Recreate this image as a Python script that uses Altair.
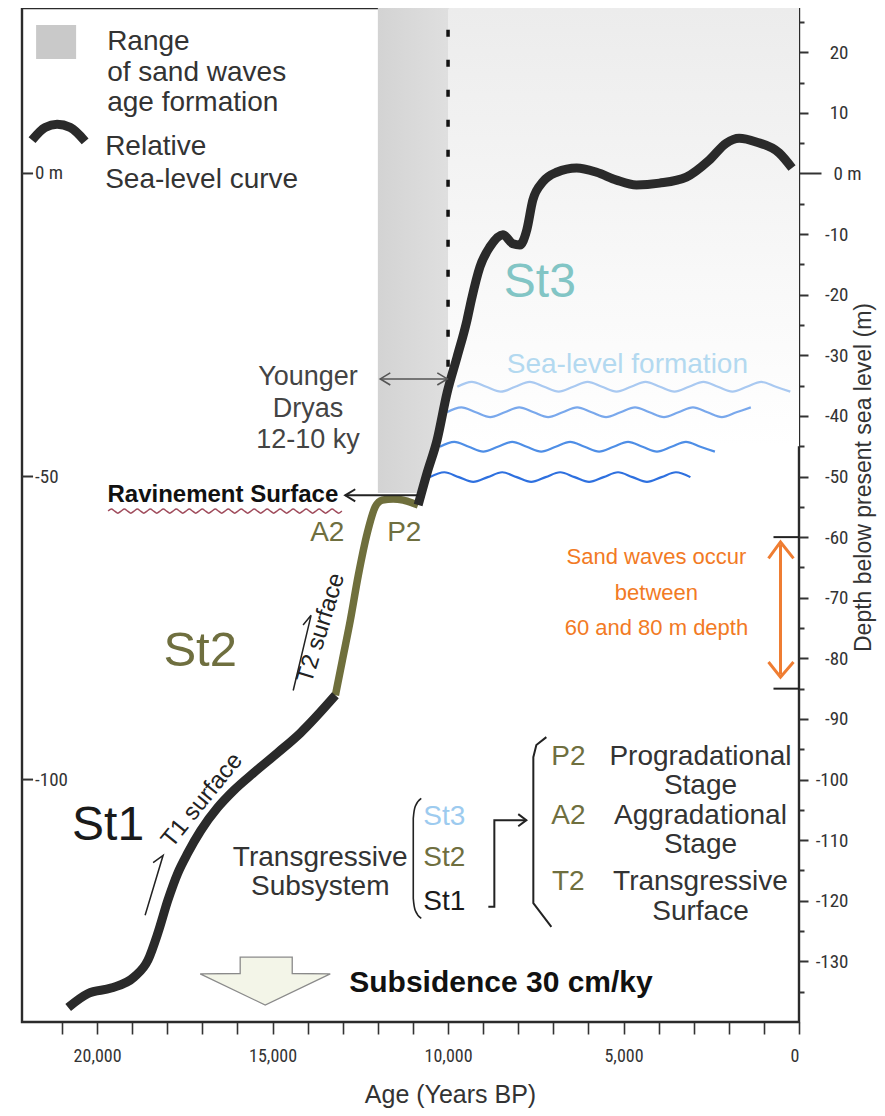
import altair as alt
import pandas as pd

SANS = "Liberation Sans, Arial, Helvetica, sans-serif"
NARROW = "Liberation Sans Narrow, Arial Narrow, Roboto Condensed, DejaVu Sans Condensed, sans-serif"

# ---------------- data ----------------
X_DOMAIN = [0, 22140]
Y_DOMAIN = [-140, 27.3]
X_TICKS = [0, 1000, 2000, 3000, 4000, 5000, 6000, 7000, 8000, 9000, 10000,
           11000, 12000, 13000, 14000, 15000, 16000, 17000, 18000, 19000, 20000, 21000]
Y_TICKS = [25, 20, 15, 10, 5, 0, -5, -10, -15, -20, -25, -30, -35, -40, -45, -50,
           -55, -60, -65, -70, -75, -80, -85, -90, -95, -100, -105, -110, -115,
           -120, -125, -130, -135]
LEFT_TICKS = [0, -50, -100]
LEFT_LABELS = ["0 m", "-50", "-100"]

# relative sea-level curve (years BP, m)
ST1_AGE = [20824, 20256, 19602, 18949, 18551, 18267, 17983, 17699, 17415, 17045,
           16562, 16108, 15540, 14858, 14205, 13210]
ST1_DEPTH = [-137.6, -135.3, -134.4, -132.6, -129.8, -125.3, -119.9, -115.4, -112.1,
             -108.4, -104.6, -101.8, -98.9, -95.6, -92.3, -86.1]
ST2_AGE = [13210, 13011, 12784, 12557, 12301, 12074, 11875, 11563, 11278, 10994, 10852]
ST2_DEPTH = [-86.1, -80.3, -73.7, -66.3, -59.3, -55.0, -53.9, -53.7, -53.9, -54.4, -54.7]
ST3_AGE = [10852, 10597, 10313, 10028, 9744, 9460, 9337, 9091, 8807, 8438,
           8153, 7955, 7756, 7585, 7301, 6903, 6335, 5767, 5199, 4631,
           3977, 3210, 2557, 2074, 1705, 1222, 568, 199]
ST3_DEPTH = [-54.7, -49.4, -44.0, -36.2, -30.3, -24.2, -20.9, -15.4, -12.1, -10.1,
             -11.6, -11.8, -9.3, -4.4, -1.4, 0.2, 0.9, 0.2, -1.1, -1.9,
             -1.6, -0.6, 2.2, 5.0, 5.8, 5.2, 3.4, 0.9]

# range of sand-wave age formation (12-10 ky), bounded by the curve
BAND_DEPTH = [-52.7, -49.4, -44.0, -36.2, -35.5, 27.3]
BAND_AGE_RIGHT = [10760, 10597, 10313, 10028, 10000, 10000]
BAND_AGE_LEFT = 12000

# sea-level formation waves: (start age, end age, depth, colour)
WAVES = [(9736, 43, -35.2, "#a9c9f1"),
         (10035, 1098, -39.4, "#79a8ec"),
         (10234, 2038, -45.1, "#4e8ee6"),
         (10519, 2893, -50.1, "#2e70df")]

# ---------------- scales / axes ----------------
XSCALE = alt.Scale(domain=X_DOMAIN, reverse=True, nice=False, zero=False)
YSCALE = alt.Scale(domain=Y_DOMAIN, nice=False, zero=False)
XAXIS = alt.Axis(values=X_TICKS, title="Age (Years BP)",
                 labelExpr="datum.value % 5000 === 0 ? format(datum.value, ',') : ''",
                 domain=False, grid=False, tickSize=12, tickWidth=1.6, tickColor="#333",
                 labelFont=NARROW, labelFontSize=18, labelColor="#333", labelPadding=13,
                 titleFont=SANS, titleFontSize=25, titleFontWeight="normal",
                 titleColor="#333", titleX=428, titleY=60, titleAlign="center",
                 titleBaseline="top")
YAXIS = alt.Axis(orient="right", values=Y_TICKS, title="Depth below present sea level (m)",
                 labelExpr="datum.value === 0 ? '0 m' : (datum.value % 10 === 0 ? '' + datum.value : '')",
                 domain=False, grid=False, tickWidth=2, tickColor="#333",
                 tickSize={"condition": [{"test": "datum.value === 0", "value": 22},
                                         {"test": "datum.value % 10 === 0", "value": 9}],
                           "value": 5},
                 labelFont=NARROW, labelFontSize=19, labelColor="#333",
                 labelAlign="right", labelBaseline="middle", labelPadding=40,
                 titleFont=SANS, titleFontSize=23, titleFontWeight="normal",
                 titleColor="#333", titleAngle=270, titleX=64, titleY=469,
                 titleAlign="center", titleBaseline="middle")


def X(f):
    return alt.X(f"{f}:Q", scale=XSCALE, axis=XAXIS)


def Y(f):
    return alt.Y(f"{f}:Q", scale=YSCALE, axis=YAXIS)


def lines(groups, **mark):
    rows = []
    for gid, pts in enumerate(groups):
        for i, (a, d) in enumerate(pts):
            rows.append({"id": gid, "i": i, "a": a, "d": d})
    return alt.Chart(pd.DataFrame(rows)).mark_line(**mark).encode(
        x=X("a"), y=Y("d"), detail="id:N", order="i:Q")


def texts(items, **mark):
    df = pd.DataFrame(items, columns=["t", "a", "d"])
    return alt.Chart(df).mark_text(**mark).encode(x=X("a"), y=Y("d"), text="t:N")


def wave_points(a0, a1, d, amp, period):
    q = period / 4.0
    n = int((a0 - a1) / q)
    offs = [0, amp, 0, -amp]
    return [(a0 - k * q, d + offs[k % 4]) for k in range(n + 1)]


layers = []

# light shading right of 10 ky
light = pd.DataFrame({"a1": [10000], "a2": [0], "d1": [27.3], "d2": [-45]})
layers.append(alt.Chart(light).mark_rect(color={
    "gradient": "linear", "x1": 0, "y1": 0, "x2": 0, "y2": 1,
    "stops": [{"offset": 0, "color": "#ececec"}, {"offset": 0.6, "color": "#f8f8f8"},
              {"offset": 1, "color": "#ffffff"}]}).encode(
    x=X("a1"), x2="a2", y=Y("d1"), y2="d2"))

# darker sand-wave age band
band = pd.DataFrame({"d": BAND_DEPTH, "a2": BAND_AGE_RIGHT, "a1": [BAND_AGE_LEFT] * len(BAND_DEPTH)})
layers.append(alt.Chart(band).mark_area(orient="horizontal", color={
    "gradient": "linear", "x1": 0, "y1": 0, "x2": 1, "y2": 0,
    "stops": [{"offset": 0, "color": "#d3d3d3"}, {"offset": 1, "color": "#dfdfdf"}]}).encode(
    y=Y("d"), x=X("a1"), x2="a2"))

# dotted 10 ky line
dot = pd.DataFrame({"a": [10000], "d1": [23.7], "d2": [-32.0]})
layers.append(alt.Chart(dot).mark_rule(color="#111", strokeWidth=3.5, strokeDash=[7, 23]).encode(
    x=X("a"), y=Y("d1"), y2="d2"))

# legend square and arc
sq = pd.DataFrame({"a1": [21738], "a2": [20598], "d1": [24.5], "d2": [18.9]})
layers.append(alt.Chart(sq).mark_rect(color="#c9c9c9").encode(x=X("a1"), x2="a2", y=Y("d1"), y2="d2"))
layers.append(lines([[(21853, 5.5), (21482, 7.6), (21140, 8.1), (20769, 7.6), (20341, 5.3)]],
                    color="#2a2a2a", strokeWidth=9, interpolate="monotone"))

# waves
for a0, a1, d, c in WAVES:
    layers.append(lines([wave_points(a0, a1, d, 0.8, 1650)], color=c, strokeWidth=2.2,
                        interpolate="monotone"))
# ravinement squiggle
layers.append(lines([wave_points(19686, 13015, -55.7, 0.35, 370)], color="#a04c5c",
                    strokeWidth=1.5, interpolate="monotone"))

# sea-level curve
layers.append(lines([list(zip(ST2_AGE, ST2_DEPTH))], color="#6f6f3c", strokeWidth=7.5,
                    interpolate="monotone"))
layers.append(lines([list(zip(ST1_AGE, ST1_DEPTH)), list(zip(ST3_AGE, ST3_DEPTH))],
                    color="#2a2a2a", strokeWidth=9, interpolate="monotone"))

# black thin annotation lines
layers.append(lines([
    [(10849, -53.1), (12930, -53.1)],
    [(12645, -52.1), (12930, -53.1), (12645, -54.1)],
    [(8852, -121.0), (8681, -121.0), (8681, -106.7), (7769, -106.7)],
    [(8000, -105.7), (7769, -106.7), (8000, -107.7)],
    [(7199, -93.0), (7484, -94.3), (7570, -96.3), (7570, -120.4), (7056, -124.3)],
    [(727, -60), (0, -60)],
    [(727, -85), (0, -85)],
], color="#222", strokeWidth=2))
layers.append(lines([
    [(10763, -103.1), (10934, -104.4), (10991, -106.4), (10991, -119.6), (10934, -121.6), (10763, -122.9)],
], color="#222", strokeWidth=1.6, interpolate="monotone"))
layers.append(lines([
    [(18404, -113.7), (18119, -112.5), (18632, -122.4)],
    [(14131, -74.5), (13903, -72.9), (14412, -85.3)],
], color="#222", strokeWidth=1.5))
# left axis ticks
layers.append(lines([[(22140, v), (21825, v)] for v in LEFT_TICKS], color="#333", strokeWidth=2))

# Younger Dryas arrow
layers.append(lines([
    [(11931, -33.9), (10021, -33.9)],
    [(11646, -32.9), (11931, -33.9), (11646, -34.9)],
    [(10306, -32.9), (10021, -33.9), (10306, -34.9)],
], color="#555", strokeWidth=1.6))

# orange arrow
layers.append(lines([
    [(527, -61.2), (527, -82.7)],
    [(869, -63.5), (527, -60.8), (157, -63.5)],
    [(869, -80.6), (527, -83.1), (157, -80.6)],
], color="#ef7d32", strokeWidth=3))

# subsidence block arrow
blk = pd.DataFrame({"d": [-129.3, -132.0, -132.05, -137.2],
                    "a1": [15923, 15923, 17063, 15210],
                    "a2": [14440, 14440, 13357, 15210]})
layers.append(alt.Chart(blk).mark_area(orient="horizontal", color="#f3f5e8", stroke="#8a8a8a",
                                       strokeWidth=1.3).encode(y=Y("d"), x=X("a1"), x2="a2"))

# ---------------- texts ----------------
layers.append(texts([("Range", 19714, 20.4), ("of sand waves", 19714, 15.2),
                     ("age formation", 19714, 10.3), ("Relative", 19771, 3.0),
                     ("Sea-level curve", 19771, -2.4)],
                    align="left", baseline="alphabetic", font=SANS, fontSize=28, color="#333"))
layers.append(texts([("Younger", 13990, -33.6), ("Dryas", 13990, -38.9), ("12-10 ky", 13990, -44.0)],
                    align="center", baseline="middle", font=SANS, fontSize=27, color="#444"))
layers.append(texts([("St3", 7384, -18.0)], align="center", baseline="middle", font=SANS,
                    fontSize=48, color="#82c5c5"))
layers.append(texts([("St2", 17063, -78.8)], align="center", baseline="middle", font=SANS,
                    fontSize=49, color="#6f6f3f"))
layers.append(texts([("St1", 19686, -107.7)], align="center", baseline="middle", font=SANS,
                    fontSize=48, color="#1a1a1a"))
layers.append(texts([("A2", 13442, -59.3), ("P2", 11247, -59.3)], align="center", baseline="middle",
                    font=SANS, fontSize=28, color="#6f6f3f"))
layers.append(texts([("Sea-level formation", 4890, -31.6)], align="center", baseline="middle",
                    font=SANS, fontSize=28, color="#b3d9f0"))
layers.append(texts([("Sand waves occur", 4062, -63.3), ("between", 4062, -69.2),
                     ("60 and 80 m depth", 4062, -75.0)], align="center", baseline="middle",
                    font=SANS, fontSize=22, color="#f27a24"))
layers.append(texts([("T1 surface", 17006, -103.4)], align="center", baseline="middle", font=SANS,
                    fontSize=24, color="#222", angle=309))
layers.append(texts([("T2 surface", 13613, -75.0)], align="center", baseline="middle", font=SANS,
                    fontSize=24, color="#222", angle=287))
layers.append(texts([("Ravinement Surface", 13129, -53.1)], align="right", baseline="middle",
                    font=SANS, fontSize=24, fontWeight="bold", color="#111"))
layers.append(texts([("Subsidence 30 cm/ky", 12816, -133.6)], align="left", baseline="middle",
                    font=SANS, fontSize=30, fontWeight="bold", color="#111"))
layers.append(texts([("Transgressive", 13642, -113.0), ("Subsystem", 13642, -117.8)],
                    align="center", baseline="middle", font=SANS, fontSize=28, color="#333"))
layers.append(texts([("St3", 10705, -106.2)], align="left", baseline="middle", font=SANS,
                    fontSize=28, color="#9dcbef"))
layers.append(texts([("St2", 10705, -113.0)], align="left", baseline="middle", font=SANS,
                    fontSize=28, color="#6f6f3f"))
layers.append(texts([("St1", 10705, -120.2)], align="left", baseline="middle", font=SANS,
                    fontSize=28, color="#1a1a1a"))
layers.append(texts([("P2", 6572, -96.3), ("A2", 6572, -106.0), ("T2", 6572, -116.9)],
                    align="center", baseline="middle", font=SANS, fontSize=28, color="#6f6f3f"))
layers.append(texts([("Progradational", 2808, -96.3), ("Stage", 2808, -101.1),
                     ("Aggradational", 2808, -106.0), ("Stage", 2808, -110.8),
                     ("Transgressive", 2808, -116.9), ("Surface", 2808, -121.9)],
                    align="center", baseline="middle", font=SANS, fontSize=28, color="#333"))
layers.append(texts(list(zip(LEFT_LABELS, [21767] * 3, LEFT_TICKS)), align="left",
                    baseline="middle", font=NARROW, fontSize=19, color="#333"))

chart = alt.layer(*layers).properties(
    width=777, height=1014,
    autosize=alt.AutoSizeParams(type="none"),
    padding={"left": 14, "top": 0, "right": 78, "bottom": 86},
).configure_view(stroke="#2b2b2b", strokeWidth=2.4)

chart.save("out.html", embed_options={"renderer": "svg", "actions": False})
